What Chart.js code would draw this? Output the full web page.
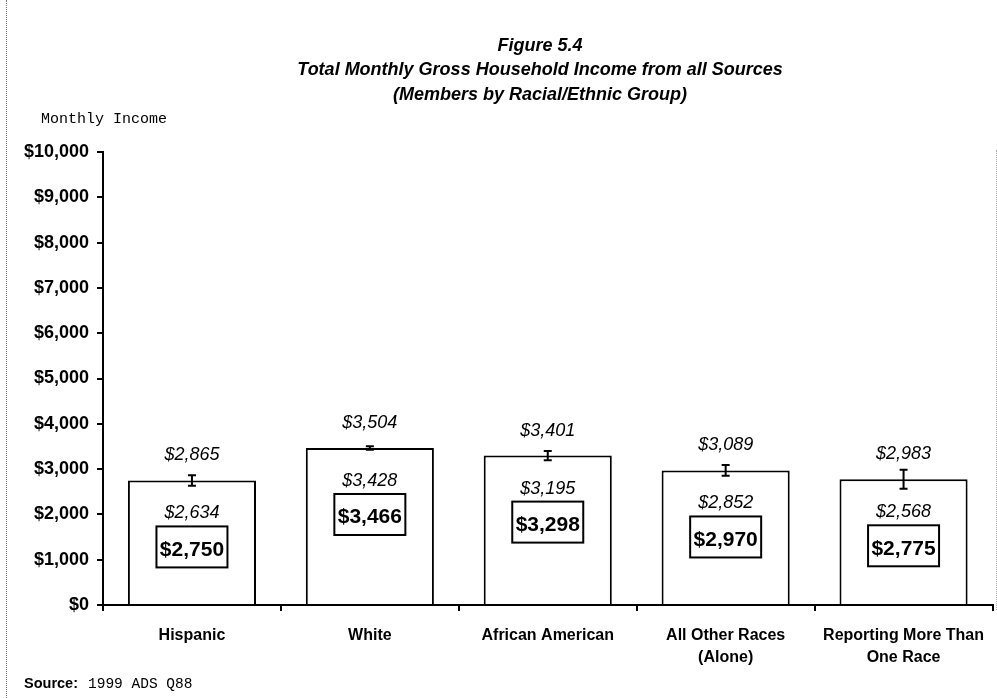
<!DOCTYPE html>
<html>
<head>
<meta charset="utf-8">
<script src="https://cdn.jsdelivr.net/npm/chart.js@4"></script>
<style>
  html, body { margin: 0; padding: 0; background: #fff; }
  #wrap { position: relative; width: 997px; height: 698px; }
  #edgeLeft { position: absolute; left: 6px; top: 0; height: 698px; border-left: 1px dotted #777; }
  #edgeRight { position: absolute; left: 996px; top: 150px; height: 460px; border-left: 1px dotted #aaa; }
</style>
</head>
<body>
<div id="wrap">
  <canvas id="myChart" width="997" height="698"></canvas>
  <div id="edgeLeft"></div>
  <div id="edgeRight"></div>
</div>
<script>
// chart data
const groups = [
  "Hispanic",
  "White",
  "African American",
  ["All Other Races", "(Alone)"],
  ["Reporting More Than", "One Race"]
];
const incomes = [2750, 3466, 3298, 2970, 2775];
const upperBounds = [2865, 3504, 3401, 3089, 2983];
const lowerBounds = [2634, 3428, 3195, 2852, 2568];
const yTicks = [0, 1000, 2000, 3000, 4000, 5000, 6000, 7000, 8000, 9000, 10000];

const titleLines = [
  "Figure 5.4",
  "Total Monthly Gross Household Income from all Sources",
  "(Members by Racial/Ethnic Group)"
];

const sans = "'Liberation Sans', Arial, sans-serif";
const mono = "'Liberation Mono', 'Courier New', monospace";

const money = v => "$" + v.toLocaleString("en-US");

// title, axis caption and source line
const textPlugin = {
  id: "texts",
  afterDraw(chart) {
    const ctx = chart.ctx;
    ctx.save();
    ctx.fillStyle = "#000";
    ctx.textAlign = "center";
    ctx.textBaseline = "middle";
    ctx.font = "italic bold 18px " + sans;
    titleLines.forEach((line, i) => ctx.fillText(line, 540, 46 + i * 24.5));

    ctx.textAlign = "left";
    ctx.font = "15px " + mono;
    ctx.fillText("Monthly Income", 41, 119);

    ctx.font = "bold 14.5px " + sans;
    ctx.fillText("Source:", 24, 684);
    const w = ctx.measureText("Source: ").width;
    ctx.font = "14.5px " + mono;
    ctx.fillText("1999 ADS Q88", 24 + w + 6, 684);
    ctx.restore();
  }
};

// error bars, italic bound labels and boxed value
const barLabels = {
  id: "barLabels",
  afterDatasetsDraw(chart) {
    const ctx = chart.ctx;
    const y = chart.scales.y;
    const bars = chart.getDatasetMeta(0).data;
    ctx.save();
    bars.forEach((bar, i) => {
      const x = bar.x;
      const top = bar.y;

      // error bar
      const hi = y.getPixelForValue(upperBounds[i]);
      const lo = y.getPixelForValue(lowerBounds[i]);
      ctx.strokeStyle = "#000";
      ctx.lineWidth = 2;
      ctx.beginPath();
      ctx.moveTo(x, hi); ctx.lineTo(x, lo);
      ctx.moveTo(x - 4, hi); ctx.lineTo(x + 4, hi);
      ctx.moveTo(x - 4, lo); ctx.lineTo(x + 4, lo);
      ctx.stroke();

      ctx.fillStyle = "#000";
      ctx.textAlign = "center";
      ctx.textBaseline = "middle";
      ctx.font = "italic 18px " + sans;
      ctx.fillText(money(upperBounds[i]), x, top - 25);
      ctx.fillText(money(lowerBounds[i]), x, top + 33);

      // value box
      const bw = 71, bh = 41, by = top + 46;
      ctx.fillStyle = "#fff";
      ctx.fillRect(x - bw / 2, by, bw, bh);
      ctx.lineWidth = 2;
      ctx.strokeRect(x - bw / 2, by, bw, bh);
      ctx.fillStyle = "#000";
      ctx.font = "bold 21px " + sans;
      ctx.fillText(money(incomes[i]), x, by + bh / 2 + 3);
    });
    ctx.restore();
  }
};

new Chart(document.getElementById("myChart"), {
  type: "bar",
  data: {
    labels: groups,
    datasets: [{
      data: incomes,
      backgroundColor: "#fff",
      borderColor: "#000",
      borderWidth: 2,
      barPercentage: 1,
      categoryPercentage: 0.72
    }]
  },
  options: {
    responsive: false,
    animation: false,
    layout: { padding: { top: 152, left: 0, right: 0, bottom: 13 } },
    plugins: {
      legend: { display: false },
      tooltip: { enabled: false }
    },
    scales: {
      x: {
        grid: { drawOnChartArea: false, color: "#000", tickLength: 6, lineWidth: 2 },
        border: { display: true, color: "#000", width: 2 },
        ticks: {
          color: "#000",
          padding: 13,
          maxRotation: 0,
          autoSkip: false,
          font: { family: sans, size: 16, weight: "bold", lineHeight: 1.4 }
        },
        afterFit: s => { s.height = 80; }
      },
      y: {
        min: 0,
        max: 10000,
        afterBuildTicks: s => { s.ticks = yTicks.map(v => ({ value: v })); },
        grid: { drawOnChartArea: false, color: "#000", tickLength: 6, lineWidth: 2 },
        border: { display: true, color: "#000", width: 2 },
        ticks: {
          color: "#000",
          padding: 8,
          font: { family: sans, size: 18, weight: "bold" },
          callback: v => money(v)
        },
        afterFit: s => { s.width = 103; }
      }
    }
  },
  plugins: [textPlugin, barLabels]
});
</script>
</body>
</html>
